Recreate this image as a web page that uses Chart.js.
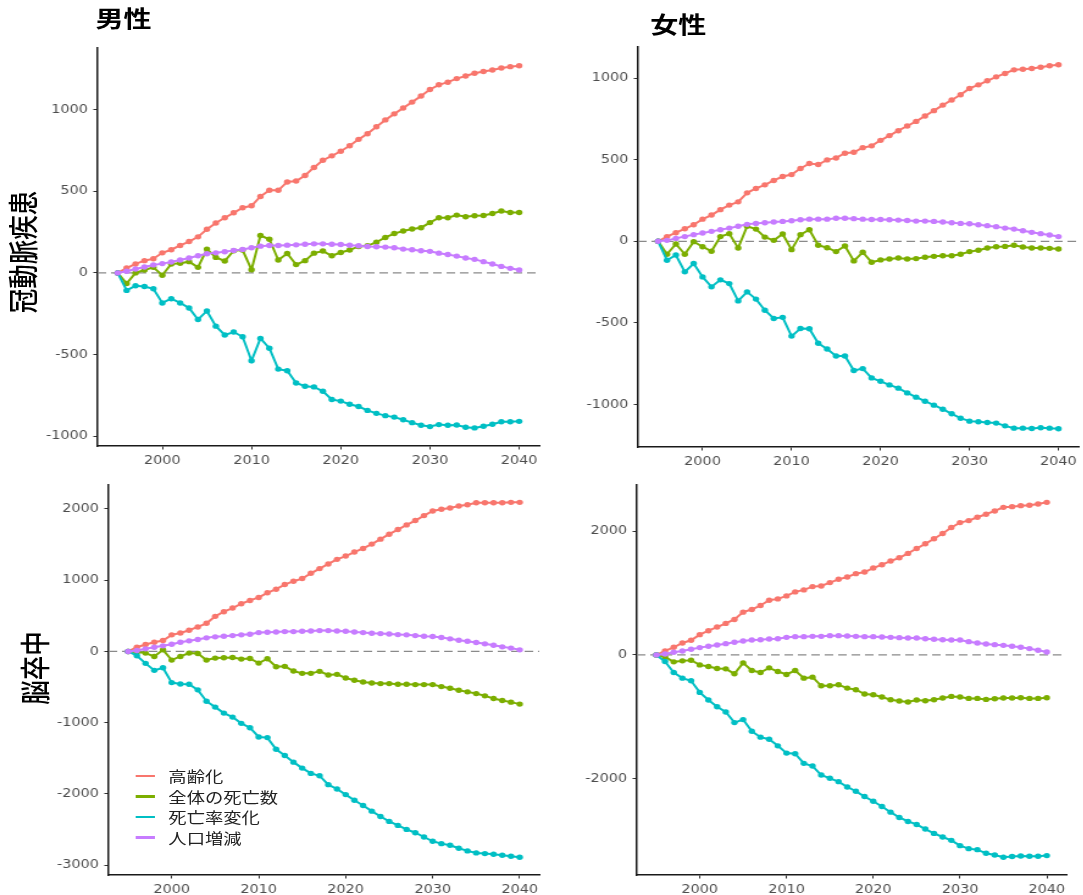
<!DOCTYPE html>
<html lang="ja">
<head>
<meta charset="utf-8">
<title>冠動脈疾患・脳卒中 死亡数変化の要因分解</title>
<script src="https://cdn.jsdelivr.net/npm/chart.js@4.4.1/dist/chart.umd.min.js"></script>
<style>
  html, body { margin: 0; padding: 0; background: #fff; overflow: hidden; }
  body { width: 1083px; height: 895px; position: relative; }
  /* the whole figure is drawn a little wider than tall */
  #stage { position: absolute; left: 0; top: 0; width: 887.7px; height: 895px;
           transform: scaleX(1.22); transform-origin: 0 0; }
  .panel { position: absolute; }
  .panel canvas { display: block; }
  .col-title { position: absolute; font: 700 23px "Noto Sans CJK JP", sans-serif;
               line-height: 1; white-space: nowrap; color: #000; }
  .row-title { position: absolute; font: 500 24.5px "Noto Sans CJK JP", sans-serif;
               line-height: 1; white-space: nowrap; color: #000;
               transform: translate(-50%, -50%) rotate(-90deg); }
  .legend-key { position: absolute; width: 16.4px; height: 2.7px; }
  .legend-text { position: absolute; font: 400 15px "Noto Sans CJK JP", sans-serif;
                 line-height: 1; white-space: nowrap; color: #222; }
</style>
</head>
<body>
<div id="stage">
  <div class="col-title" style="left:78.3px; top:6px;">男性</div>
  <div class="col-title" style="left:533px; top:12px;">女性</div>
  <div class="row-title" style="left:18.4px; top:251.5px;">冠動脈疾患</div>
  <div class="row-title" style="left:27.9px; top:668px;">脳卒中</div>

  <div class="panel" style="left:29.5px; top:36px;"><canvas id="maleChd" width="422" height="440"></canvas></div>
  <div class="panel" style="left:473.4px; top:35px;"><canvas id="femaleChd" width="421" height="442"></canvas></div>
  <div class="panel" style="left:39.1px; top:472.5px;"><canvas id="maleStroke" width="413" height="432"></canvas></div>
  <div class="panel" style="left:471.7px; top:472.5px;"><canvas id="femaleStroke" width="412" height="432"></canvas></div>

  <div id="legend"></div>
</div>

<script>
// Years on the x axis
const years = [1995, 1996, 1997, 1998, 1999, 2000, 2001, 2002, 2003, 2004,
               2005, 2006, 2007, 2008, 2009, 2010, 2011, 2012, 2013, 2014,
               2015, 2016, 2017, 2018, 2019, 2020, 2021, 2022, 2023, 2024,
               2025, 2026, 2027, 2028, 2029, 2030, 2031, 2032, 2033, 2034,
               2035, 2036, 2037, 2038, 2039, 2040];

// Component names and colours
const seriesNames  = ['高齢化', '全体の死亡数', '死亡率変化', '人口増減'];
const seriesColors = ['#F8766D', '#7CAE00', '#00BFC4', '#C77CFF'];

// Tick labels
const xTicks = [2000, 2010, 2020, 2030, 2040];
const yTicksChd = [-1000, -500, 0, 500, 1000];
const yTicksMaleStroke = [-3000, -2000, -1000, 0, 1000, 2000];
const yTicksFemaleStroke = [-2000, 0, 2000];

// 冠動脈疾患・男性
const maleChdAging  = [0, 30, 55, 75, 87, 123, 142, 168, 192, 221, 267, 306, 338, 368, 399, 411, 468, 506, 506, 557, 563, 597, 646, 690, 717, 745, 779, 818, 852, 895, 937, 974, 1010, 1046, 1083, 1123, 1152, 1168, 1190, 1206, 1223, 1233, 1243, 1255, 1263, 1269];
const maleChdDeaths = [0, -65, 0, 18, 34, -14, 55, 59, 69, 34, 146, 95, 73, 136, 140, 20, 229, 206, 79, 119, 51, 75, 121, 134, 105, 125, 140, 162, 166, 188, 217, 241, 257, 269, 277, 308, 338, 338, 354, 344, 350, 352, 364, 379, 370, 370];
const maleChdRate   = [0, -107, -79, -83, -97, -184, -158, -184, -215, -285, -233, -326, -380, -362, -391, -538, -401, -461, -589, -599, -674, -694, -698, -725, -775, -785, -804, -818, -842, -860, -874, -883, -899, -917, -933, -941, -929, -933, -931, -945, -949, -939, -927, -911, -911, -909];
const maleChdPop    = [0, 10, 24, 36, 49, 57, 67, 79, 91, 105, 117, 123, 130, 138, 144, 154, 164, 168, 168, 170, 172, 176, 178, 178, 176, 174, 170, 166, 162, 160, 158, 154, 146, 142, 136, 132, 121, 113, 103, 91, 83, 69, 55, 40, 28, 18];

// 冠動脈疾患・女性
const femaleChdAging  = [0, 29, 53, 77, 102, 136, 161, 194, 222, 242, 297, 324, 346, 373, 397, 409, 446, 477, 471, 499, 511, 540, 546, 574, 585, 619, 648, 678, 707, 735, 768, 801, 835, 866, 898, 937, 959, 984, 1008, 1029, 1051, 1055, 1059, 1067, 1076, 1082];
const femaleChdDeaths = [0, -79, -16, -79, -2, -33, -61, 29, 47, -41, 92, 75, 26, 6, 45, -51, 41, 71, -24, -39, -63, -29, -120, -67, -128, -114, -108, -102, -108, -106, -98, -92, -88, -88, -79, -63, -55, -41, -33, -31, -24, -35, -41, -41, -43, -47];
const femaleChdRate   = [0, -116, -84, -187, -136, -218, -279, -236, -259, -365, -310, -354, -422, -473, -466, -581, -534, -536, -625, -660, -703, -703, -792, -780, -837, -858, -880, -900, -929, -955, -980, -1004, -1029, -1057, -1084, -1102, -1106, -1110, -1114, -1131, -1145, -1145, -1147, -1143, -1145, -1149];
const femaleChdPop    = [0, 6, 18, 29, 41, 51, 61, 71, 81, 92, 104, 110, 114, 118, 122, 126, 132, 136, 136, 136, 141, 141, 139, 136, 134, 134, 132, 130, 128, 124, 124, 122, 118, 114, 110, 108, 102, 96, 90, 81, 75, 65, 55, 47, 39, 29];

// 脳卒中・男性
const maleStrokeAging  = [0, 60, 98, 130, 153, 233, 260, 298, 344, 395, 493, 558, 609, 670, 716, 758, 823, 874, 939, 986, 1023, 1097, 1163, 1228, 1293, 1339, 1395, 1446, 1507, 1576, 1646, 1711, 1776, 1837, 1907, 1972, 1995, 2013, 2041, 2060, 2088, 2088, 2088, 2088, 2093, 2093];
const maleStrokeDeaths = [0, -9, -23, -70, 23, -121, -70, -23, -28, -121, -93, -88, -84, -107, -98, -163, -102, -214, -209, -274, -307, -307, -279, -330, -321, -372, -405, -428, -442, -451, -451, -460, -460, -465, -465, -465, -493, -516, -544, -567, -591, -623, -660, -688, -711, -739];
const maleStrokeRate   = [0, -60, -167, -265, -228, -437, -456, -460, -539, -698, -781, -865, -921, -1009, -1070, -1200, -1209, -1372, -1460, -1553, -1637, -1711, -1744, -1869, -1930, -2009, -2088, -2162, -2241, -2316, -2385, -2441, -2497, -2544, -2604, -2664, -2697, -2720, -2762, -2799, -2827, -2837, -2846, -2860, -2874, -2888];
const maleStrokePop    = [0, 14, 37, 60, 79, 102, 130, 149, 167, 191, 205, 214, 223, 233, 242, 265, 270, 274, 279, 279, 284, 288, 293, 293, 288, 284, 274, 265, 256, 251, 246, 237, 233, 223, 214, 209, 195, 177, 158, 144, 126, 107, 88, 65, 47, 23];

// 脳卒中・女性
const femaleStrokeAging  = [0, 64, 123, 193, 236, 327, 391, 450, 509, 573, 691, 734, 798, 884, 905, 953, 1018, 1050, 1103, 1114, 1168, 1221, 1259, 1312, 1339, 1403, 1457, 1516, 1569, 1639, 1719, 1794, 1875, 1960, 2057, 2137, 2169, 2223, 2271, 2325, 2383, 2394, 2410, 2416, 2437, 2464];
const femaleStrokeDeaths = [0, -32, -112, -96, -86, -161, -187, -220, -225, -305, -129, -252, -284, -209, -268, -316, -252, -375, -359, -498, -498, -482, -536, -562, -632, -643, -680, -723, -744, -761, -728, -739, -723, -696, -670, -680, -702, -702, -718, -707, -696, -696, -691, -702, -702, -691];
const femaleStrokeRate   = [0, -107, -284, -375, -418, -605, -728, -836, -921, -1093, -1044, -1232, -1328, -1361, -1468, -1585, -1596, -1751, -1794, -1939, -1992, -2046, -2132, -2201, -2287, -2362, -2448, -2539, -2624, -2689, -2737, -2812, -2882, -2940, -2994, -3080, -3128, -3144, -3203, -3230, -3267, -3256, -3246, -3251, -3251, -3240];
const femaleStrokePop    = [0, 16, 43, 64, 91, 118, 139, 161, 182, 204, 225, 241, 246, 257, 262, 284, 295, 295, 300, 300, 311, 311, 305, 300, 295, 295, 289, 284, 279, 273, 273, 262, 252, 246, 241, 241, 214, 193, 177, 166, 155, 139, 123, 102, 75, 48];

// dashed reference line at zero, under the series
const zeroLine = {
  id: 'zeroLine',
  beforeDatasetsDraw(chart) {
    const { ctx, chartArea, scales } = chart;
    const py = scales.y.getPixelForValue(0);
    ctx.save();
    ctx.strokeStyle = '#8a8a8a';
    ctx.lineWidth = 1.2;
    ctx.setLineDash([7, 4]);
    ctx.beginPath();
    ctx.moveTo(chartArea.left, py);
    ctx.lineTo(chartArea.right, py);
    ctx.stroke();
    ctx.restore();
  }
};

const tickFont = { family: '"DejaVu Sans", sans-serif', size: 11.8 };

function axisStyle(tickValues, fitFn) {
  return {
    type: 'linear',
    afterBuildTicks: s => { s.ticks = tickValues.map(v => ({ value: v })); },
    afterFit: fitFn,
    ticks: { color: '#4d4d4d', font: tickFont, padding: 4.5, autoSkip: false,
             maxRotation: 0, callback: v => String(v) },
    grid: { display: true, drawOnChartArea: false, drawTicks: true, tickLength: 3.5,
            tickColor: '#333', tickWidth: 1 },
    border: { display: true, color: '#1a1a1a', width: 1.5 }
  };
}

function drawPanel(canvasId, series, yTicks) {
  // ranges padded by 5% on each side
  const firstYear = years[0], lastYear = years[years.length - 1];
  const xPad = (lastYear - firstYear) * 0.05;
  const all = series.flat();
  const lo = Math.min(...all), hi = Math.max(...all);
  const yPad = (hi - lo) * 0.05;

  const xAxis = axisStyle(xTicks, s => { s.height = 30; });
  xAxis.min = firstYear - xPad;
  xAxis.max = lastYear + xPad;
  const yAxis = axisStyle(yTicks, s => { s.width = 50; });
  yAxis.min = lo - yPad;
  yAxis.max = hi + yPad;

  new Chart(document.getElementById(canvasId), {
    type: 'line',
    data: {
      datasets: series.map((vals, i) => ({
        label: seriesNames[i],
        data: vals.map((v, j) => ({ x: years[j], y: v })),
        borderColor: seriesColors[i],
        backgroundColor: seriesColors[i],
        pointBackgroundColor: seriesColors[i],
        borderWidth: 2,
        pointRadius: 2.7,
        pointBorderWidth: 0,
        pointHoverRadius: 2.7,
        tension: 0,
        fill: false,
        order: series.length - 1 - i
      }))
    },
    options: {
      responsive: false,
      animation: false,
      events: [],
      layout: { padding: { top: 10, right: 10, left: 0, bottom: 0 } },
      plugins: { legend: { display: false }, tooltip: { enabled: false } },
      scales: { x: xAxis, y: yAxis }
    },
    plugins: [zeroLine]
  });
}

drawPanel('maleChd', [maleChdAging, maleChdDeaths, maleChdRate, maleChdPop], yTicksChd);
drawPanel('femaleChd', [femaleChdAging, femaleChdDeaths, femaleChdRate, femaleChdPop], yTicksChd);
drawPanel('maleStroke', [maleStrokeAging, maleStrokeDeaths, maleStrokeRate, maleStrokePop], yTicksMaleStroke);
drawPanel('femaleStroke', [femaleStrokeAging, femaleStrokeDeaths, femaleStrokeRate, femaleStrokePop], yTicksFemaleStroke);

// legend inside the lower-left panel
const legend = document.getElementById('legend');
seriesNames.forEach((name, i) => {
  const cy = 776 + i * 20.5;
  const key = document.createElement('div');
  key.className = 'legend-key';
  key.style.left = '110.7px';
  key.style.top = (cy - 1.35) + 'px';
  key.style.background = seriesColors[i];
  const text = document.createElement('div');
  text.className = 'legend-text';
  text.style.left = '138px';
  text.style.top = (cy - 8) + 'px';
  text.textContent = name;
  legend.appendChild(key);
  legend.appendChild(text);
});
</script>
</body>
</html>
